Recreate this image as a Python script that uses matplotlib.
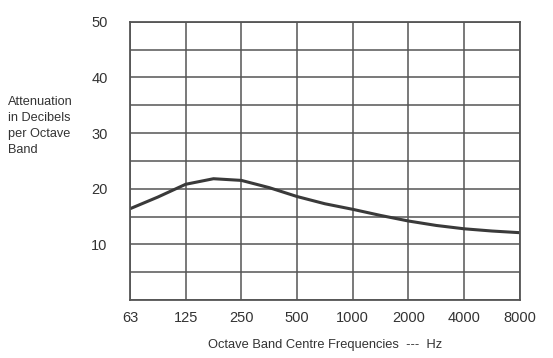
import matplotlib
matplotlib.use("Agg")
import matplotlib.pyplot as plt

# octave bands (equally spaced on the chart)
BANDS = ["63", "125", "250", "500", "1000", "2000", "4000", "8000"]
CURVE_POS = [0, 0.5, 1, 1.5, 2, 2.5, 3, 3.5, 4, 4.5, 5, 5.5, 6, 6.5, 7]
CURVE_DB = [16.4, 18.5, 20.8, 21.8, 21.5, 20.2, 18.6, 17.3, 16.3, 15.2,
            14.2, 13.4, 12.8, 12.4, 12.1]
Y_TICKS = [10, 20, 30, 40, 50]

plt.rcParams["font.family"] = ["Liberation Sans", "DejaVu Sans"]
ink = "#333333"
grid = "#555555"

fig = plt.figure(figsize=(5.53, 3.58), dpi=100)
ax = fig.add_axes([0.235, 0.162, 0.705, 0.777])

ax.plot(CURVE_POS, CURVE_DB, color="#3a3a3a", lw=2.2,
        solid_joinstyle="round", solid_capstyle="butt")

ax.set_xlim(0, len(BANDS) - 1)
ax.set_ylim(0, 50)
ax.set_xticks(range(len(BANDS)))
ax.set_xticklabels(BANDS)
ax.set_yticks(Y_TICKS)
ax.set_yticks(range(0, 51, 5), minor=True)
ax.grid(True, which="both", color=grid, lw=1.1)
ax.set_axisbelow(True)
for s in ax.spines.values():
    s.set_color(grid)
    s.set_linewidth(1.3)
ax.tick_params(which="both", length=0, colors=ink, labelsize=10.5)
ax.tick_params(axis="y", pad=16)
ax.tick_params(axis="x", pad=8)

ax.set_xlabel("Octave Band Centre Frequencies  ---  Hz", fontsize=9.3,
              color=ink, labelpad=10)
fig.text(8 / 553, 1 - 126 / 358, "Attenuation\nin Decibels\nper Octave\nBand",
         fontsize=9.2, color=ink, ha="left", va="center", linespacing=1.45)

fig.savefig("out.png", dpi=100)
